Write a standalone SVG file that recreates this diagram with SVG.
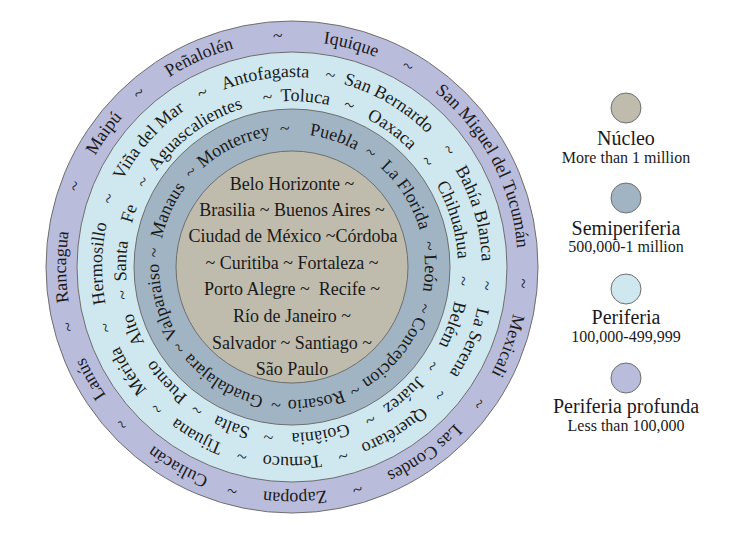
<svg xmlns="http://www.w3.org/2000/svg" xmlns:xlink="http://www.w3.org/1999/xlink" width="736" height="541" viewBox="0 0 736 541">
<style>
.t{font-family:"Liberation Serif","Times New Roman",serif;fill:#1a1a1a}
.rt{font-size:18px;text-anchor:middle}
.ct{font-size:18px;text-anchor:middle}
.lt{font-size:20px;text-anchor:middle}
.ls{font-size:16px;text-anchor:middle}
.ring{stroke:#6e6e6e;stroke-width:1}
.c1{fill:#bfbcae}.c2{fill:#a0b4c4}.c3{fill:#cfe7ee}.c4{fill:#babcdc}
</style>
<defs>
<path id="pO" d="M66,267 A226,226 0 0 1 518,267 A226,226 0 0 1 66,267 A226,226 0 0 1 518,267 A226,226 0 0 1 66,267"/>
<path id="pL1" d="M102,267 A190,190 0 0 1 482,267 A190,190 0 0 1 102,267 A190,190 0 0 1 482,267 A190,190 0 0 1 102,267"/>
<path id="pL2" d="M126,267 A166,166 0 0 1 458,267 A166,166 0 0 1 126,267 A166,166 0 0 1 458,267 A166,166 0 0 1 126,267"/>
<path id="pD" d="M159,267 A133,133 0 0 1 425,267 A133,133 0 0 1 159,267 A133,133 0 0 1 425,267 A133,133 0 0 1 159,267"/>
</defs>
<rect width="736" height="541" fill="#ffffff"/>
<g id="connectors"/>
<g id="periferia-profunda">
<circle class="ring c4" cx="292" cy="267" r="246"/>
<text class="t rt">
<textPath href="#pO" startOffset="50%">Rancagua</textPath>
<textPath href="#pO" startOffset="52.85%">~</textPath>
<textPath href="#pO" startOffset="54.92%">Maipú</textPath>
<textPath href="#pO" startOffset="56.76%">~</textPath>
<textPath href="#pO" startOffset="59.18%">Peñalolén</textPath>
<textPath href="#pO" startOffset="62.01%">~</textPath>
<textPath href="#pO" startOffset="64.57%">Iquique</textPath>
<textPath href="#pO" startOffset="66.67%">~</textPath>
<textPath href="#pO" startOffset="71.14%">San Miguel del Tucumán</textPath>
<textPath href="#pO" startOffset="25.57%">~</textPath>
<textPath href="#pO" startOffset="27.78%">Mexicali</textPath>
<textPath href="#pO" startOffset="30.03%">~</textPath>
<textPath href="#pO" startOffset="32.58%">Las Condes</textPath>
<textPath href="#pO" startOffset="35.22%">~</textPath>
<textPath href="#pO" startOffset="37.40%">Zapopan</textPath>
<textPath href="#pO" startOffset="39.58%">~</textPath>
<textPath href="#pO" startOffset="41.63%">Culiacán</textPath>
<textPath href="#pO" startOffset="44.06%">~</textPath>
<textPath href="#pO" startOffset="45.96%">Lanús</textPath>
<textPath href="#pO" startOffset="47.92%">~</textPath>
</text>
</g>
<g id="periferia">
<circle class="ring c3" cx="292" cy="267" r="215"/>
<text class="t rt">
<textPath href="#pL1" startOffset="50.14%">Hermosillo</textPath>
<textPath href="#pL1" startOffset="52.85%">~</textPath>
<textPath href="#pL1" startOffset="55.74%">Viña del Mar</textPath>
<textPath href="#pL1" startOffset="58.72%">~</textPath>
<textPath href="#pL1" startOffset="61.39%">Antofagasta</textPath>
<textPath href="#pL1" startOffset="64.07%">~</textPath>
<textPath href="#pL1" startOffset="66.74%">San Bernardo</textPath>
<textPath href="#pL1" startOffset="69.89%">~</textPath>
<textPath href="#pL1" startOffset="72.74%">Bahía Blanca</textPath>
<textPath href="#pL1" startOffset="25.76%">~</textPath>
<textPath href="#pL1" startOffset="28.21%">La Serena</textPath>
<textPath href="#pL1" startOffset="30.68%">~</textPath>
<textPath href="#pL1" startOffset="33.06%">Querétaro</textPath>
<textPath href="#pL1" startOffset="35.40%">~</textPath>
<textPath href="#pL1" startOffset="37.5%">Temuco</textPath>
<textPath href="#pL1" startOffset="39.57%">~</textPath>
<textPath href="#pL1" startOffset="41.57%">Tijuana</textPath>
<textPath href="#pL1" startOffset="43.56%">~</textPath>
<textPath href="#pL1" startOffset="45.49%">Mérida</textPath>
<textPath href="#pL1" startOffset="47.49%">~</textPath>
</text>
<text class="t rt">
<textPath href="#pL2" startOffset="50.28%">Santa</textPath>
<textPath href="#pL2" startOffset="52.53%">Fe</textPath>
<textPath href="#pL2" startOffset="54.13%">~</textPath>
<textPath href="#pL2" startOffset="57.51%">Aguascalientes</textPath>
<textPath href="#pL2" startOffset="61.36%">~</textPath>
<textPath href="#pL2" startOffset="63.13%">Toluca</textPath>
<textPath href="#pL2" startOffset="65.21%">~</textPath>
<textPath href="#pL2" startOffset="67.5%">Oaxaca</textPath>
<textPath href="#pL2" startOffset="69.72%">~</textPath>
<textPath href="#pL2" startOffset="72.74%">Chihuahua</textPath>
<textPath href="#pL2" startOffset="25.65%">~</textPath>
<textPath href="#pL2" startOffset="27.76%">Belém</textPath>
<textPath href="#pL2" startOffset="29.89%">~</textPath>
<textPath href="#pL2" startOffset="31.81%">Juárez</textPath>
<textPath href="#pL2" startOffset="33.74%">~</textPath>
<textPath href="#pL2" startOffset="36.15%">Goiânia</textPath>
<textPath href="#pL2" startOffset="38.60%">~</textPath>
<textPath href="#pL2" startOffset="40.38%">Salta</textPath>
<textPath href="#pL2" startOffset="42.17%">~</textPath>
<textPath href="#pL2" startOffset="44.1%">Puento</textPath>
<textPath href="#pL2" startOffset="47.0%">Alto</textPath>
<textPath href="#pL2" startOffset="48.7%">~</textPath>
</text>
</g>
<g id="semiperiferia">
<circle class="ring c2" cx="292" cy="267" r="158"/>
<text class="t rt">
<textPath href="#pD" startOffset="47.92%">Valparaiso</textPath>
<textPath href="#pD" startOffset="50.83%">~</textPath>
<textPath href="#pD" startOffset="53.40%">Manaus</textPath>
<textPath href="#pD" startOffset="56.01%">~</textPath>
<textPath href="#pD" startOffset="58.93%">Monterrey</textPath>
<textPath href="#pD" startOffset="62.08%">~</textPath>
<textPath href="#pD" startOffset="65.01%">Puebla</textPath>
<textPath href="#pD" startOffset="67.28%">~</textPath>
<textPath href="#pD" startOffset="70.51%">La Florida</textPath>
<textPath href="#pD" startOffset="73.78%">~</textPath>
<textPath href="#pD" startOffset="25.35%">León</textPath>
<textPath href="#pD" startOffset="27.42%">~</textPath>
<textPath href="#pD" startOffset="30.56%">Concepcion</textPath>
<textPath href="#pD" startOffset="33.74%">~</textPath>
<textPath href="#pD" startOffset="36.08%">Rosario</textPath>
<textPath href="#pD" startOffset="38.43%">~</textPath>
<textPath href="#pD" startOffset="41.81%">Guadalajara</textPath>
<textPath href="#pD" startOffset="45.07%">~</textPath>
</text>
</g>
<g id="nucleo">
<circle class="ring c1" cx="292" cy="267" r="116"/>
<text class="t ct" x="292" y="190">Belo Horizonte ~</text>
<text class="t ct" x="292" y="216">Brasilia ~ Buenos Aires ~</text>
<text class="t ct" x="293" y="242">Ciudad de México ~Córdoba</text>
<text class="t ct" x="292" y="269">~ Curitiba ~ Fortaleza ~</text>
<text class="t ct" x="292" y="295" style="white-space:pre">Porto Alegre ~  Recife ~</text>
<text class="t ct" x="292" y="322">Río de Janeiro ~</text>
<text class="t ct" x="292" y="349">Salvador ~ Santiago ~</text>
<text class="t ct" x="292" y="375">São Paulo</text>
</g>
<g id="legend-nucleo">
<circle class="ring c1" cx="626" cy="108" r="15"/>
<text class="t lt" x="626" y="145">Núcleo</text>
<text class="t ls" x="626" y="163">More than 1 million</text>
</g>
<g id="legend-semiperiferia">
<circle class="ring c2" cx="626" cy="198" r="15"/>
<text class="t lt" x="626" y="235">Semiperiferia</text>
<text class="t ls" x="626" y="252">500,000-1 million</text>
</g>
<g id="legend-periferia">
<circle class="ring c3" cx="626" cy="289" r="15"/>
<text class="t lt" x="626" y="324">Periferia</text>
<text class="t ls" x="626" y="342">100,000-499,999</text>
</g>
<g id="legend-periferia-profunda">
<circle class="ring c4" cx="626" cy="378" r="15"/>
<text class="t lt" x="626" y="413">Periferia profunda</text>
<text class="t ls" x="626" y="431">Less than 100,000</text>
</g>
</svg>
